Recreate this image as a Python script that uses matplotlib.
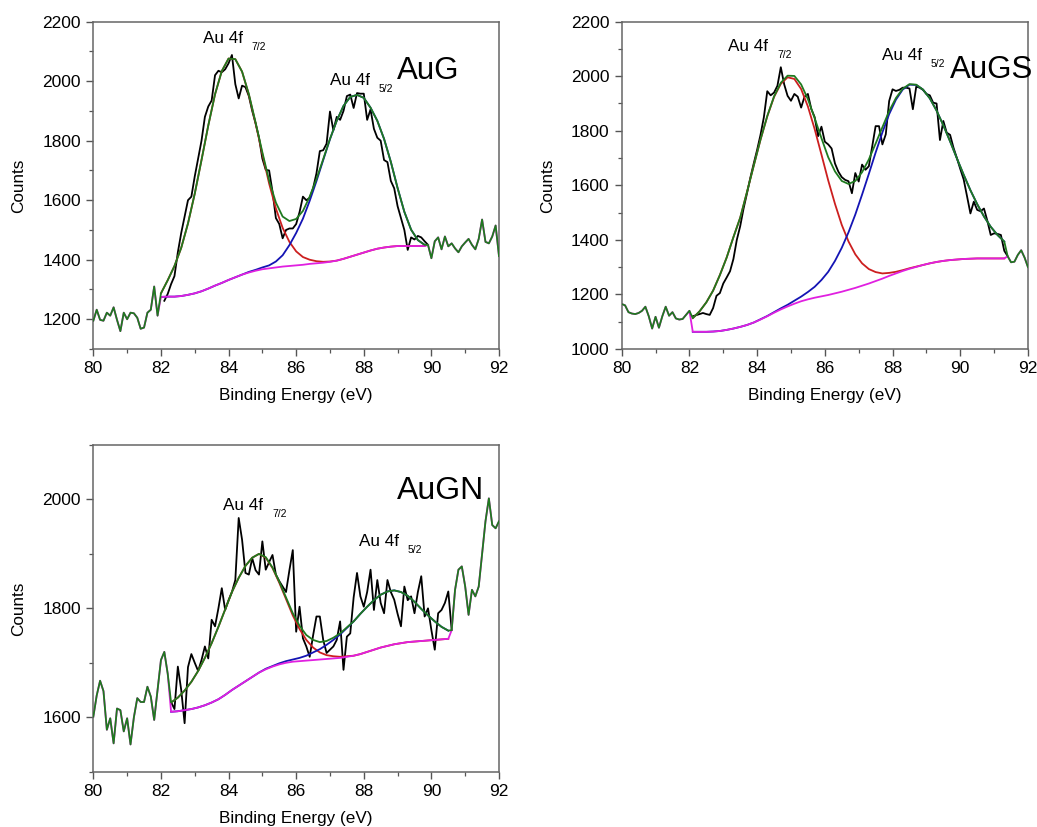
import numpy as np
import matplotlib
matplotlib.use("Agg")
import matplotlib.pyplot as plt
from matplotlib.ticker import MultipleLocator

plt.rcParams['font.family'] = ['Liberation Sans', 'DejaVu Sans']

# ---------------- energy grids ----------------
energy = np.round(np.arange(80.0, 92.05, 0.1), 1)          # measured spectrum, 0.1 eV step

# ---------------- AuG ----------------
aug_counts = [
    1195, 1232, 1198, 1195, 1222, 1212, 1240, 1198, 1160, 1222,
    1200, 1222, 1220, 1205, 1168, 1172, 1222, 1232, 1310, 1212,
    1282, 1262, 1285, 1318, 1345, 1425, 1490, 1545, 1600, 1612,
    1680, 1740, 1800, 1880, 1915, 1935, 2020, 2035, 2030, 2040,
    2060, 2088, 1990, 1942, 1985, 1980, 1950, 1900, 1858, 1810,
    1740, 1702, 1700, 1629, 1540, 1520, 1472, 1500, 1505, 1505,
    1520, 1560, 1612, 1600, 1608, 1640, 1690, 1765, 1768, 1790,
    1898, 1835, 1880, 1870, 1900, 1950, 1955, 1910, 1960, 1958,
    1958, 1870, 1905, 1840, 1810, 1800, 1735, 1728, 1665, 1640,
    1580, 1540, 1500, 1433, 1475, 1468, 1480, 1475, 1462, 1450,
    1405, 1462, 1475, 1435, 1478, 1445, 1455, 1438, 1425, 1445,
    1458, 1470, 1450, 1435, 1470, 1535, 1460, 1455, 1478, 1515,
    1412,
]
aug_fit_e = np.round(np.arange(82.0, 89.85, 0.2), 1)
aug_bg = [
    1275, 1276, 1276, 1278, 1282, 1287, 1294, 1303, 1313, 1322,
    1332, 1341, 1350, 1357, 1363, 1368, 1371, 1374, 1377, 1379,
    1381, 1383, 1386, 1388, 1390, 1393, 1397, 1403, 1410, 1417,
    1424, 1431, 1437, 1441, 1444, 1446, 1446, 1446, 1446, 1446,
]
aug_p1 = [
    12, 55, 103, 162, 240, 335, 441, 548, 643, 712,
    744, 733, 682, 598, 495, 387, 285, 198, 130, 81,
    47, 26, 14, 7, 3, 1, 0, 0, 0, 0,
    0, 0, 0, 0, 0, 0, 0, 0, 0, 0,
]
aug_p2 = [
    0, 0, 0, 0, 0, 0, 0, 0, 0, 0,
    0, 0, 0, 2, 3, 6, 10, 20, 38, 70,
    109, 155, 212, 276, 345, 412, 470, 514, 537, 537,
    520, 480, 430, 365, 285, 195, 115, 55, 20, 4,
]

# ---------------- AuGS ----------------
augs_counts = [
    1165, 1160, 1135, 1130, 1128, 1132, 1140, 1155, 1120, 1075,
    1118, 1078, 1120, 1155, 1122, 1135, 1112, 1108, 1110, 1125,
    1140, 1120, 1124, 1128, 1132, 1128, 1125, 1150, 1195, 1205,
    1240, 1262, 1285, 1330, 1400, 1450, 1515, 1570, 1628, 1680,
    1730, 1785, 1850, 1945, 1930, 1940, 1965, 2033, 1970, 1928,
    1910, 1935, 1925, 1885, 1925, 1935, 1880, 1850, 1780, 1815,
    1760, 1750, 1735, 1680, 1650, 1630, 1620, 1615, 1571, 1645,
    1614, 1676, 1657, 1670, 1743, 1817, 1817, 1750, 1787, 1909,
    1952, 1946, 1950, 1958, 1958, 1955, 1879, 1962, 1958, 1950,
    1935, 1930, 1903, 1900, 1766, 1836, 1793, 1785, 1738, 1700,
    1660, 1622, 1560, 1497, 1540, 1510, 1505, 1515, 1470, 1418,
    1424, 1422, 1418, 1360, 1340, 1318, 1320, 1345, 1362, 1335,
    1300,
]
augs_fit_e = np.round(np.arange(82.1, 91.35, 0.2), 1)
augs_bg = [
    1063, 1063, 1063, 1064, 1066, 1070, 1075, 1081, 1088, 1097,
    1108, 1120, 1133, 1145, 1156, 1166, 1175, 1182, 1188, 1193,
    1198, 1204, 1210, 1217, 1224, 1232, 1240, 1249, 1258, 1268,
    1277, 1286, 1294, 1301, 1308, 1314, 1319, 1323, 1326, 1328,
    1330, 1331, 1332, 1332, 1332, 1332, 1332,
]
augs_p1 = [
    50, 75, 108, 150, 205, 265, 335, 400, 487, 575,
    659, 733, 791, 827, 840, 824, 778, 707, 618, 520,
    420, 328, 245, 177, 123, 82, 53, 33, 19, 11,
    6, 3, 2, 1, 0, 0, 0, 0, 0, 0,
    0, 0, 0, 0, 0, 0, 0,
]
augs_p2 = [
    0, 0, 0, 0, 0, 0, 0, 0, 0, 0,
    1, 1, 2, 4, 6, 11, 17, 27, 40, 60,
    85, 119, 161, 211, 269, 334, 402, 471, 536, 593,
    637, 665, 675, 667, 643, 605, 555, 497, 435, 371,
    309, 251, 199, 154, 116, 86, 62,
]

# ---------------- AuGN ----------------
augn_counts = [
    1601, 1640, 1667, 1648, 1577, 1598, 1552, 1616, 1613, 1574,
    1598, 1550, 1600, 1635, 1628, 1628, 1656, 1638, 1595, 1650,
    1705, 1720, 1680, 1628, 1615, 1693, 1650, 1589, 1692, 1716,
    1700, 1685, 1705, 1730, 1708, 1779, 1767, 1800, 1837, 1797,
    1815, 1830, 1852, 1966, 1926, 1865, 1862, 1892, 1870, 1862,
    1923, 1871, 1885, 1898, 1862, 1850, 1840, 1830, 1870, 1907,
    1757, 1803, 1745, 1730, 1711, 1750, 1785, 1785, 1742, 1718,
    1724, 1730, 1742, 1776, 1687, 1748, 1754, 1820, 1865, 1822,
    1803, 1830, 1871, 1797, 1852, 1810, 1791, 1852, 1830, 1816,
    1790, 1767, 1840, 1815, 1822, 1791, 1830, 1859, 1785, 1800,
    1760, 1724, 1791, 1797, 1810, 1831, 1760, 1834, 1871, 1877,
    1840, 1788, 1834, 1822, 1840, 1900, 1960, 2002, 1953, 1947,
    1960,
]
augn_fit_e = np.round(np.arange(82.3, 90.55, 0.2), 1)
augn_bg = [
    1610, 1611, 1613, 1615, 1618, 1622, 1627, 1633, 1641, 1650,
    1658, 1666, 1674, 1682, 1688, 1693, 1697, 1700, 1702, 1703,
    1704, 1705, 1706, 1707, 1708, 1709, 1711, 1713, 1716, 1720,
    1724, 1728, 1731, 1734, 1736, 1738, 1739, 1740, 1741, 1742,
    1743, 1744,
]
augn_p1 = [
    17, 25, 36, 50, 67, 87, 109, 133, 157, 180,
    198, 212, 219, 218, 205, 181, 150, 117, 85, 59,
    38, 23, 13, 7, 4, 2, 1, 0, 0, 0,
    0, 0, 0, 0, 0, 0, 0, 0, 0, 0,
    0, 0,
]
augn_p2 = [
    0, 0, 0, 0, 0, 0, 0, 0, 0, 0,
    0, 0, 0, 0, 1, 1, 2, 3, 4, 6,
    9, 14, 19, 26, 34, 43, 53, 63, 74, 83,
    91, 97, 100, 99, 94, 85, 73, 59, 46, 34,
    23, 15,
]

GREEN = '#1f7a1f'
RED = '#cc1f1f'
BLUE = '#1414b4'
MAGENTA = '#e020e0'
LW = 1.3


def draw_spectrum(ax, counts, fit_e, bg, p1, p2, lo_end, black_lo, hi_start):
    counts = np.asarray(counts, float)
    bg = np.asarray(bg, float)
    p1 = np.asarray(p1, float)
    p2 = np.asarray(p2, float)
    env = bg + p1 + p2

    left = energy <= lo_end + 1e-6
    right = energy >= hi_start - 1e-6
    inside = (energy >= black_lo - 1e-6) & (energy <= hi_start + 1e-6)

    def joined(mid):
        xs = np.concatenate([energy[left], fit_e, energy[right]])
        ys = np.concatenate([counts[left], mid, counts[right]])
        return xs, ys

    ax.plot(energy[inside], counts[inside], color='black', lw=LW, zorder=2)
    ax.plot(fit_e, bg + p1, color=RED, lw=LW, zorder=3)
    ax.plot(fit_e, bg + p2, color=BLUE, lw=LW, zorder=3)
    ax.plot(*joined(bg), color=MAGENTA, lw=LW, zorder=4)
    ax.plot(*joined(env), color=GREEN, lw=LW, zorder=5)


def style_axes(ax, ylo, yhi):
    ax.set_xlim(80, 92)
    ax.set_ylim(ylo, yhi)
    ax.xaxis.set_major_locator(MultipleLocator(2))
    ax.xaxis.set_minor_locator(MultipleLocator(1))
    ax.yaxis.set_major_locator(MultipleLocator(200))
    ax.yaxis.set_minor_locator(MultipleLocator(100))
    ax.tick_params(which='both', direction='out', top=False, right=False,
                   labelsize=12.5, color='#555555', pad=4)
    ax.tick_params(which='major', length=5, width=1.0)
    ax.tick_params(which='minor', length=3, width=0.9)
    for s in ax.spines.values():
        s.set_color('#666666')
        s.set_linewidth(1.1)
    ax.set_xlabel('Binding Energy (eV)', fontsize=12.3)
    ax.set_ylabel('Counts', fontsize=12.3)
    ax.xaxis.set_label_coords(0.5, -0.12)
    ax.yaxis.set_label_coords(-0.165, 0.5)


def peak_label(ax, x, y, sub, dx=35.0, dy=-5.0):
    ax.text(x, y, 'Au 4f', fontsize=12.3, ha='left', va='baseline', zorder=6)
    ax.annotate(sub, xy=(x, y), xytext=(dx, dy), textcoords='offset points',
                fontsize=7.5, ha='left', va='baseline', zorder=6)


fig = plt.figure(figsize=(10.37, 8.27), dpi=100)
ax1 = fig.add_axes([0.0900, 0.578, 0.3912, 0.3958])
ax2 = fig.add_axes([0.5995, 0.578, 0.3918, 0.3958])
ax3 = fig.add_axes([0.0900, 0.0669, 0.3912, 0.3950])

draw_spectrum(ax1, aug_counts, aug_fit_e, aug_bg, aug_p1, aug_p2,
              lo_end=81.9, black_lo=82.1, hi_start=89.9)
style_axes(ax1, 1100, 2200)
peak_label(ax1, 83.25, 2127, '7/2')
peak_label(ax1, 87.0, 1987, '5/2')
ax1.text(88.98, 2007, 'AuG', fontsize=22.5, ha='left', va='baseline')

draw_spectrum(ax2, augs_counts, augs_fit_e, augs_bg, augs_p1, augs_p2,
              lo_end=82.0, black_lo=82.1, hi_start=91.4)
style_axes(ax2, 1000, 2200)
peak_label(ax2, 83.15, 2094, '7/2')
peak_label(ax2, 87.7, 2058, '5/2')
ax2.text(89.69, 1992, 'AuGS', fontsize=22.5, ha='left', va='baseline', clip_on=False)

draw_spectrum(ax3, augn_counts, augn_fit_e, augn_bg, augn_p1, augn_p2,
              lo_end=82.2, black_lo=82.3, hi_start=90.6)
style_axes(ax3, 1500, 2100)
peak_label(ax3, 83.85, 1981, '7/2')
peak_label(ax3, 87.87, 1914, '5/2')
ax3.text(88.97, 2000, 'AuGN', fontsize=23, ha='left', va='baseline')

fig.savefig('out.png', dpi=100, facecolor='white')
